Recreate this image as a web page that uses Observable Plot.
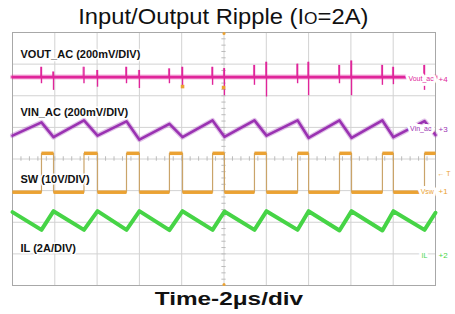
<!DOCTYPE html>
<html><head><meta charset="utf-8">
<script src="https://cdn.jsdelivr.net/npm/d3@7"></script>
<script src="https://cdn.jsdelivr.net/npm/@observablehq/plot@0.6"></script>
<style>
body{margin:0;background:#fff;width:455px;height:314px;overflow:hidden;font-family:"Liberation Sans",Arial,sans-serif}
#title{box-sizing:border-box;height:30px;padding-top:6px;padding-right:9px;text-align:center;font-size:22px;line-height:22px;color:#111;white-space:nowrap}
#title span.s{display:inline-block;transform:scaleX(1.08)}
#chart{height:260px}
#cap{height:24px;text-align:center;padding-left:2px;font-size:19px;line-height:17px;font-weight:bold;color:#111;white-space:nowrap}
#cap span{display:inline-block;transform:scaleX(1.28)}
</style></head><body>
<div id="title"><span class="s">Input/Output Ripple (I<span style="font-size:16px">O</span>=2A)</span></div>
<div id="chart"></div>
<div id="cap"><span>Time-2μs/div</span></div>
<script>
// time in µs (2 µs/div, 10 div), amplitude in divisions (-4..4)
const xGrid = [0, 2, 4, 6, 8, 10, 12, 14, 16, 18, 20];
const yGrid = [-4, -3, -2, -1, 0, 1, 2, 3, 4];

// switching edges (µs)
const riseT = [1.37, 3.38, 5.39, 7.42, 9.46, 11.44, 13.48, 15.46, 17.49, 19.48];
const fallT = [1.94, 4.02, 6.00, 8.04, 10.02, 12.01, 14.00, 16.03, 18.01];

// SW levels (div)
const swHigh = 0.18;
const swLow = -1.05;

// VIN_AC: peaks at rising edges, troughs at falling edges
const vinStart = 0.74;
const vinPeak = [1.16, 1.22, 1.19, 1.11, 1.22, 1.22, 1.22, 1.22, 1.22, 1.20];
const vinTrough = [0.69, 0.74, 0.61, 0.69, 0.70, 0.74, 0.67, 0.67, 0.69];
const vinEnd = 0.76;

// IL: troughs at rising edges, peaks at falling edges
const ilStart = -1.68;
const ilTrough = [-2.24, -2.24, -2.24, -2.25, -2.24, -2.24, -2.24, -2.26, -2.26, -2.24];
const ilPeak = [-1.65, -1.65, -1.65, -1.65, -1.66, -1.65, -1.65, -1.65, -1.65];
const ilEnd = -1.70;

// VOUT_AC: baseline and switching spikes
const voutBase = 2.59;
const voutRiseHigh = [2.90, 2.90, 2.90, 2.85, 2.90, 2.96, 3.00, 2.96, 2.96, 2.96];
const voutRiseLow = [2.38, 2.38, 2.38, 2.38, 2.33, 2.33, 2.38, 2.38, 2.33, 2.17];
const voutFallHigh = [2.75, 2.80, 2.80, 2.90, 2.86, 3.06, 3.06, 3.10, 2.90];
const voutFallLow = [2.17, 2.27, 2.23, 2.27, 2.00, 1.96, 2.00, 2.00, 2.35];

// text
const chLabels = ["VOUT_AC (200mV/DIV)", "VIN_AC (200mV/DIV)", "SW (10V/DIV)", "IL (2A/DIV)"];
const chLabelY = [3.31, 1.47, -0.65, -2.83];
const tagText = ["Vout_ac", "Vin_ac", "Vsw", " IL"];
const tagX = [18.72, 18.80, 19.30, 19.25];
const tagY = [2.55, 0.97, -1.03, -3.05];
const markText = ["+4", "+3", "+1", "+2"];
const markY = [2.53, 0.95, -1.03, -3.05];

const cMag = "#e0259a", cPur = "#9a32b2", cOrg = "#eba233", cGrn = "#46d446";
const tagColors = [cMag, cPur, cOrg, cGrn];

// build traces
const sw = [{t: 0, v: swLow}];
riseT.forEach((r, k) => {
  sw.push({t: r, v: swLow}, {t: r, v: swHigh});
  if (k < fallT.length) sw.push({t: fallT[k], v: swHigh}, {t: fallT[k], v: swLow});
  else sw.push({t: 20, v: swHigh});
});
const swSegs = [];
for (let i = 0; i < sw.length - 1; i++) if (sw[i].v === sw[i + 1].v) swSegs.push({t1: sw[i].t, t2: sw[i + 1].t, v: sw[i].v});

const vin = [{t: 0, v: vinStart}];
riseT.forEach((r, k) => {
  vin.push({t: r, v: vinPeak[k]});
  if (k < fallT.length) vin.push({t: fallT[k], v: vinTrough[k]});
});
vin.push({t: 20, v: vinEnd});

const il = [{t: 0, v: ilStart}];
riseT.forEach((r, k) => {
  il.push({t: r, v: ilTrough[k]});
  if (k < fallT.length) il.push({t: fallT[k], v: ilPeak[k]});
});
il.push({t: 20, v: ilEnd});

const spikes = [];
riseT.forEach((r, k) => spikes.push({t: r, hi: voutRiseHigh[k], lo: voutRiseLow[k]}));
fallT.forEach((f, k) => spikes.push({t: f, hi: voutFallHigh[k], lo: voutFallLow[k]}));
const vout = [{t: 0, v: voutBase}, {t: 20, v: voutBase}];

const minorX = d3.range(0, 20.01, 0.4);
const minorY = d3.range(-4, 4.01, 0.2);

const tags = tagText.map((s, i) => ({s, x: tagX[i], y: tagY[i], c: tagColors[i]}));
const marks = markText.map((s, i) => ({s, y: markY[i], c: tagColors[i]}));
const labels = chLabels.map((s, i) => ({s, y: chLabelY[i]}));

const chart = Plot.plot({
  width: 455, height: 260,
  marginTop: 2, marginBottom: 5, marginLeft: 12, marginRight: 20,
  x: {domain: [0, 20], axis: null},
  y: {domain: [-4, 4], axis: null},
  style: {fontFamily: "Liberation Sans, Arial, sans-serif", background: "#fff"},
  marks: [
    Plot.ruleX(xGrid, {stroke: "#d2d2d2", strokeWidth: 1}),
    Plot.ruleY(yGrid, {stroke: "#d2d2d2", strokeWidth: 1}),
    Plot.ruleX(minorX, {y1: -0.07, y2: 0.07, stroke: "#bbb"}),
    Plot.ruleY(minorY, {x1: 9.9, x2: 10.1, stroke: "#bbb"}),
    Plot.frame({stroke: "#a8a8a8"}),
    // VOUT: fuzzy band + thin spikes
    Plot.line(vout, {x: "t", y: "v", stroke: cMag, strokeWidth: 5, strokeOpacity: 0.35}),
    Plot.line(vout, {x: "t", y: "v", stroke: cMag, strokeWidth: 2.6}),
    Plot.ruleX(spikes, {x: (d) => d.t - 0.04, y1: voutBase, y2: "hi", stroke: cMag, strokeWidth: 1.3, strokeOpacity: 0.7}),
    Plot.ruleX(spikes, {x: "t", y1: "lo", y2: "hi", stroke: cMag, strokeWidth: 1.4}),
    // VIN
    Plot.line(vin, {x: "t", y: "v", stroke: cPur, strokeWidth: 5, strokeOpacity: 0.3}),
    Plot.line(vin, {x: "t", y: "v", stroke: cPur, strokeWidth: 2.6}),
    // SW
    Plot.line(sw, {x: "t", y: "v", stroke: "#caa46a", strokeWidth: 1.2}),
    Plot.link(swSegs, {x1: "t1", x2: "t2", y1: "v", y2: "v", stroke: cOrg, strokeWidth: 3.5}),
    // IL
    Plot.line(il, {x: "t", y: "v", stroke: cGrn, strokeWidth: 4}),
    Plot.dot([{t: 8.04, v: 2.29}, {t: 9.98, v: 2.26}], {x: "t", y: "v", symbol: "square", r: 2, fill: cOrg}),
    Plot.dot([{t: 10, v: 3.97}, {t: 10, v: -3.97}], {x: "t", y: "v", r: 1.5, fill: cOrg}),
    Plot.text(labels, {x: 0.38, y: "y", text: "s", textAnchor: "start", fontSize: 11, fontWeight: "bold", fill: "#111", stroke: "white", strokeWidth: 3, paintOrder: "stroke"}),
    Plot.text(tags, {x: "x", y: "y", text: "s", textAnchor: "start", fontSize: 7, fill: "c", stroke: "white", strokeWidth: 6, paintOrder: "stroke"}),
    Plot.text(marks, {x: 20, y: "y", text: "s", dx: 3, textAnchor: "start", fontSize: 8, fill: "c"}),
    Plot.text([{s: "← T", y: -0.46}], {x: 20, y: "y", text: "s", dx: 2, textAnchor: "start", fontSize: 7, fill: cOrg})
  ]
});
document.getElementById("chart").append(chart);
</script>
</body></html>
